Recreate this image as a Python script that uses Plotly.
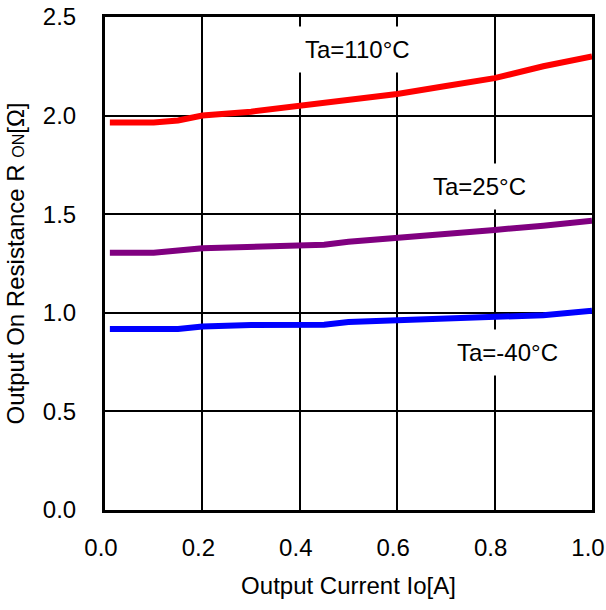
import plotly.graph_objects as go

# Data
x_110 = [0.01, 0.1, 0.15, 0.2, 0.3, 0.45, 0.5, 0.6, 0.7, 0.8, 0.9, 1.0]
r_110 = [1.965, 1.965, 1.975, 2.0, 2.02, 2.065, 2.08, 2.11, 2.15, 2.19, 2.25, 2.30]

x_25 = [0.01, 0.1, 0.2, 0.3, 0.45, 0.5, 0.6, 0.7, 0.8, 0.9, 1.0]
r_25 = [1.305, 1.305, 1.327, 1.335, 1.345, 1.36, 1.378, 1.398, 1.42, 1.442, 1.467]

x_m40 = [0.01, 0.1, 0.15, 0.2, 0.3, 0.45, 0.5, 0.6, 0.7, 0.8, 0.9, 1.0]
r_m40 = [0.918, 0.918, 0.918, 0.93, 0.938, 0.94, 0.953, 0.962, 0.971, 0.98, 0.988, 1.01]

x_ticks = [0.0, 0.2, 0.4, 0.6, 0.8, 1.0]
y_ticks = [0.0, 0.5, 1.0, 1.5, 2.0, 2.5]

labels = ["Ta=110°C", "Ta=25°C", "Ta=-40°C"]
label_x = [0.518, 0.768, 0.8275]
label_y = [2.333, 1.638, 0.801]

FONT = "Arial, Liberation Sans, sans-serif"
FS = 24

fig = go.Figure()
for xs, ys, col in [(x_110, r_110, "#ff0000"), (x_25, r_25, "#800080"), (x_m40, r_m40, "#0000ff")]:
    fig.add_trace(go.Scatter(x=xs, y=ys, mode="lines",
                             line=dict(color=col, width=6), showlegend=False))

for t, lx, ly in zip(labels, label_x, label_y):
    fig.add_annotation(x=lx, y=ly, text=t, showarrow=False, xref="x", yref="y",
                       font=dict(family=FONT, size=FS, color="black"),
                       bgcolor="white", borderpad=9)

fig.update_layout(
    width=606, height=610,
    margin=dict(l=105, r=14, t=17, b=100, autoexpand=False),
    paper_bgcolor="white", plot_bgcolor="white",
    font=dict(family=FONT, size=FS, color="black"),
)
fig.update_xaxes(range=[0, 1.0], tickvals=x_ticks, ticktext=[f"{v:.1f}" for v in x_ticks],
                 showgrid=True, gridcolor="black", gridwidth=2,
                 showline=True, linecolor="black", linewidth=3, mirror=True,
                 zeroline=False, ticks="", ticklabelstandoff=14, ticklabelshift=-4,
                 ticklabeloverflow="allow", automargin=False,
                 title=dict(text="Output Current Io[A]", standoff=18,
                            font=dict(family=FONT, size=FS)))
fig.update_yaxes(range=[0, 2.5], tickvals=y_ticks, ticktext=[f"{v:.1f}" for v in y_ticks],
                 showgrid=True, gridcolor="black", gridwidth=2,
                 showline=True, linecolor="black", linewidth=3, mirror=True,
                 zeroline=False, ticks="", ticklabelstandoff=21,
                 ticklabeloverflow="allow", automargin=False,
                 title=dict(text="Output On Resistance R <span style='font-size:16px'>ON</span>[Ω]",
                            standoff=12, font=dict(family=FONT, size=FS)))

fig.write_html("out.html", config={"displayModeBar": False},
               post_script="document.body.style.margin='0';document.body.style.padding='0';")
